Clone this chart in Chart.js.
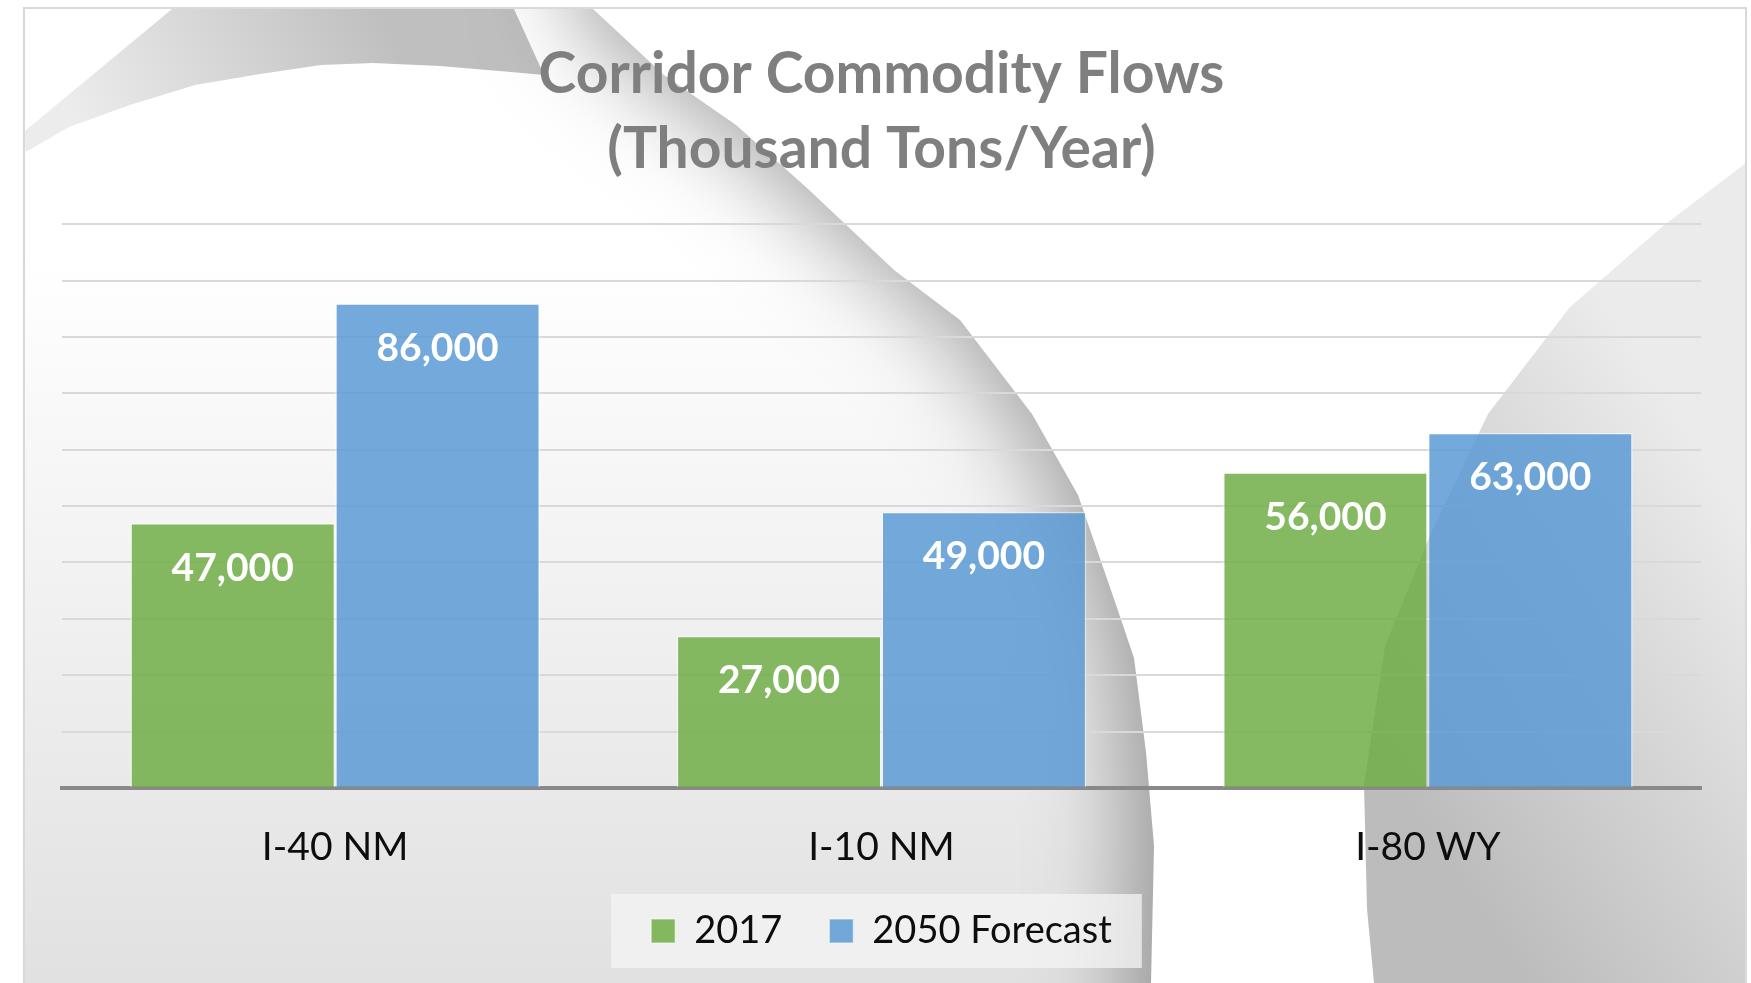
<!DOCTYPE html>
<html>
<head>
<meta charset="utf-8">
<title>Corridor Commodity Flows</title>
<script src="https://cdn.jsdelivr.net/npm/chart.js@4.4.1/dist/chart.umd.min.js"></script>
<style>
  html, body { margin: 0; padding: 0; background: #fff; overflow: hidden; }
  #wrap { position: absolute; left: 0; top: 0; width: 1751px; height: 983px; }
</style>
</head>
<body>
<div id="wrap"><canvas id="flowChart" width="1751" height="983"></canvas></div>
<script>
// chart data
var corridors = ['I-40 NM', 'I-10 NM', 'I-80 WY'];
var flows2017 = [47000, 27000, 56000];
var flows2050 = [86000, 49000, 63000];
var seriesNames = ['2017', '2050 Forecast'];
var titleLines = ['Corridor Commodity Flows', '(Thousand Tons/Year)'];
var yMax = 100000;
var yStep = 10000;

Chart.defaults.font.family = 'Lato, "Open Sans", sans-serif';

// decorative "page curl" background, drawn before everything else
function path(ctx, pts) {
    ctx.beginPath();
    ctx.moveTo(pts[0][0], pts[0][1]);
    for (var i = 1; i < pts.length; i++) ctx.lineTo(pts[i][0], pts[i][1]);
    ctx.closePath();
}

var backdrop = {
    id: 'backdrop',
    beforeDraw: function(chart) {
        var ctx = chart.ctx;
        var L = 24, T = 8, R = 1746, B = 983;
        ctx.save();
        ctx.beginPath();
        ctx.rect(L, T, R - L, B - T);
        ctx.clip();

        // base: white fading to light grey at the bottom
        var g = ctx.createLinearGradient(0, 260, 0, B);
        g.addColorStop(0, '#ffffff');
        g.addColorStop(1, '#e1e1e1');
        ctx.fillStyle = g;
        ctx.fillRect(L, T, R - L, B - T);

        // top-left swoosh
        path(ctx, [[172, 9], [514, 9], [544, 75], [511, 72], [440, 66], [373, 63], [321, 65],
                   [260, 74], [195, 85], [130, 105], [69, 127], [26, 152], [20, 135]]);
        g = ctx.createLinearGradient(380, 10, 90, 150);
        g.addColorStop(0, '#bfbfbf');
        g.addColorStop(1, '#ececec');
        ctx.fillStyle = g;
        ctx.fill();

        // white page right of the main curl, casting a shadow to the left
        var curl = [[593, -300], [593, 9], [664, 75], [736, 125], [807, 188], [894, 270], [960, 320],
                    [1032, 414], [1078, 495], [1113, 596], [1134, 658], [1146, 752], [1154, 846],
                    [1151, 983], [1151, 1400], [2300, 1400], [2300, -300]];
        ctx.save();
        ctx.shadowColor = 'rgba(0,0,0,0.34)';
        ctx.shadowBlur = 90;
        ctx.shadowOffsetX = -25;
        path(ctx, curl);
        ctx.fillStyle = '#ffffff';
        ctx.fill();
        ctx.restore();

        // grey curl on the right
        path(ctx, [[1746, 163], [1663, 226], [1570, 307], [1488, 414], [1431, 533], [1385, 646],
                   [1364, 784], [1367, 909], [1374, 983], [1746, 983]]);
        g = ctx.createLinearGradient(1380, 760, 1746, 520);
        g.addColorStop(0, '#bcbcbc');
        g.addColorStop(1, '#ebebeb');
        ctx.fillStyle = g;
        ctx.fill();
        ctx.restore();

        // outer border
        ctx.save();
        ctx.strokeStyle = '#d9d9d9';
        ctx.lineWidth = 2;
        ctx.strokeRect(L, T, R - L, B - T + 10);
        ctx.restore();

        // light panel behind the legend
        var boxes = chart.legend && chart.legend.legendHitBoxes;
        if (boxes && boxes.length) {
            var left = boxes[0].left, right = 0, cy = boxes[0].top + boxes[0].height / 2;
            boxes.forEach(function(b) {
                left = Math.min(left, b.left);
                right = Math.max(right, b.left + b.width);
            });
            ctx.save();
            ctx.fillStyle = 'rgba(244,244,244,0.75)';
            ctx.fillRect(left - 40, cy - 37, right - left + 70, 74);
            ctx.restore();
        }
    }
};

// white value labels inside the top of each bar
var barLabels = {
    id: 'barLabels',
    afterDatasetsDraw: function(chart) {
        var ctx = chart.ctx;
        ctx.save();
        ctx.fillStyle = '#ffffff';
        ctx.font = 'bold 39px Lato, "Open Sans", sans-serif';
        ctx.textAlign = 'center';
        ctx.textBaseline = 'middle';
        chart.data.datasets.forEach(function(ds, i) {
            chart.getDatasetMeta(i).data.forEach(function(bar, j) {
                ctx.fillText(ds.data[j].toLocaleString('en-US'), bar.x, bar.y + 45);
            });
        });
        ctx.restore();
    }
};

var ctx = document.getElementById('flowChart').getContext('2d');
var flowChart = new Chart(ctx, {
    type: 'bar',
    data: {
        labels: corridors,
        datasets: [{
            label: seriesNames[0],
            data: flows2017,
            backgroundColor: 'rgba(112, 173, 71, 0.85)',
            borderColor: 'rgba(255, 255, 255, 0.45)',
            borderWidth: 1.5,
            categoryPercentage: 0.75,
            barPercentage: 1.0
        }, {
            label: seriesNames[1],
            data: flows2050,
            backgroundColor: 'rgba(91, 155, 213, 0.85)',
            borderColor: 'rgba(255, 255, 255, 0.45)',
            borderWidth: 1.5,
            categoryPercentage: 0.75,
            barPercentage: 1.0
        }]
    },
    options: {
        responsive: false,
        animation: false,
        layout: { padding: { left: 62, right: 50, top: 0, bottom: 23 } },
        scales: {
            x: {
                grid: { display: false, drawTicks: false },
                border: { display: true, color: '#898989', width: 4 },
                ticks: {
                    color: '#0d0d0d',
                    padding: 40,
                    font: { size: 39, lineHeight: 1.0 }
                },
                afterFit: function(scale) { scale.height = 77; }
            },
            y: {
                min: 0,
                max: yMax,
                ticks: { display: false, stepSize: yStep },
                border: { display: false },
                grid: { color: '#d9d9d9', lineWidth: 2, drawTicks: false, tickLength: 0 }
            }
        },
        plugins: {
            title: {
                display: true,
                text: titleLines,
                color: '#7f7f7f',
                font: { size: 57, weight: 'bold', lineHeight: 1.3 },
                padding: { top: 38, bottom: 38 }
            },
            legend: {
                position: 'bottom',
                labels: {
                    color: '#0d0d0d',
                    font: { size: 38 },
                    boxWidth: 24,
                    boxHeight: 24,
                    padding: 47
                }
            },
            tooltip: { enabled: false }
        }
    },
    plugins: [backdrop, barLabels]
});
</script>
</body>
</html>
